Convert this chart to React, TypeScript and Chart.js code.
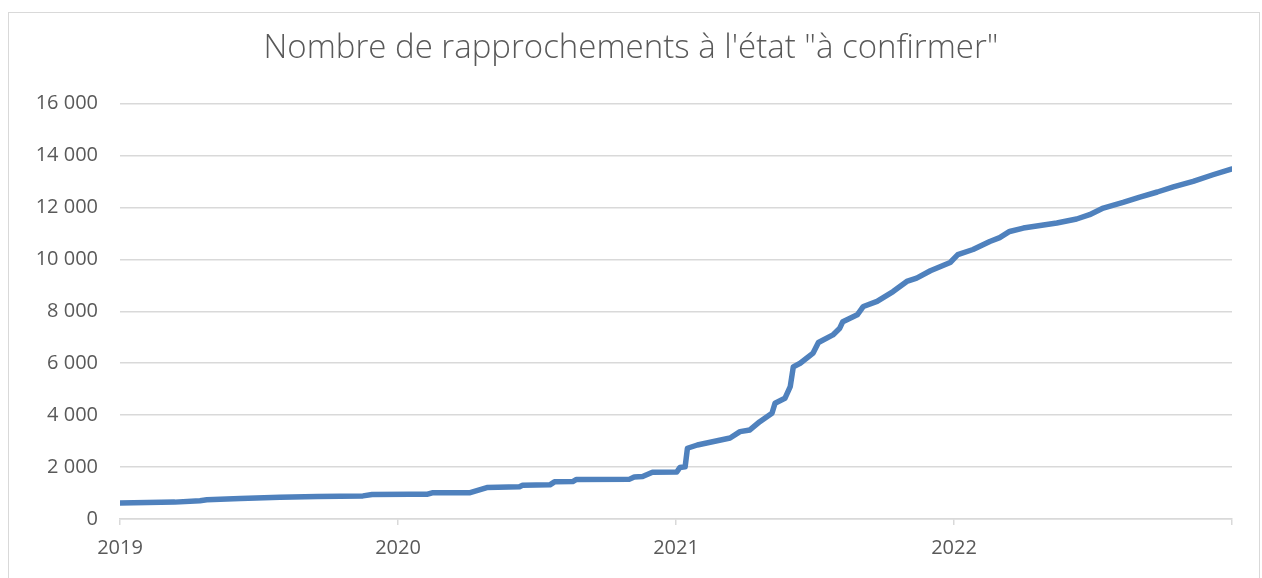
import React, { useEffect, useRef } from "react";
import { Chart, registerables } from "chart.js";

Chart.register(...registerables);

const chartTitle = "Nombre de rapprochements à l'état \"à confirmer\"";

const dates = [
  "2019-01-01", "2019-03-14", "2019-04-16", "2019-04-25", "2019-06-08", "2019-07-30",
  "2019-09-17", "2019-11-16", "2019-11-28", "2020-01-17", "2020-02-09", "2020-02-15",
  "2020-04-05", "2020-04-27", "2020-06-09", "2020-06-13", "2020-07-19", "2020-07-25",
  "2020-08-18", "2020-08-23", "2020-11-01", "2020-11-07", "2020-11-18", "2020-12-01",
  "2021-01-02", "2021-01-06", "2021-01-13", "2021-01-16", "2021-01-29", "2021-03-13",
  "2021-03-26", "2021-04-08", "2021-04-21", "2021-05-07", "2021-05-11", "2021-05-24",
  "2021-05-31", "2021-06-04", "2021-06-13", "2021-06-30", "2021-07-07", "2021-07-26",
  "2021-08-04", "2021-08-08", "2021-08-27", "2021-09-04", "2021-09-22", "2021-10-13",
  "2021-10-31", "2021-11-13", "2021-12-01", "2021-12-27", "2022-01-06", "2022-01-26",
  "2022-02-17", "2022-03-02", "2022-03-15", "2022-04-02", "2022-04-24", "2022-05-16",
  "2022-06-11", "2022-06-28", "2022-07-16", "2022-08-11", "2022-09-02", "2022-09-25",
  "2022-10-16", "2022-11-11", "2022-12-07", "2022-12-31",
];

const counts = [
  620, 650, 705, 740, 790, 837,
  870, 890, 945, 955, 955, 1010,
  1015, 1210, 1245, 1300, 1315, 1430,
  1440, 1525, 1535, 1620, 1640, 1800,
  1810, 1980, 2010, 2725, 2850, 3120,
  3365, 3430, 3750, 4075, 4460, 4650,
  5100, 5860, 6000, 6390, 6800, 7090,
  7350, 7600, 7865, 8185, 8380, 8760,
  9150, 9280, 9560, 9880, 10180, 10380,
  10690, 10840, 11075, 11205, 11305, 11400,
  11555, 11720, 11975, 12195, 12400, 12595,
  12790, 13005, 13260, 13480,
];

const yearTicks = [2019, 2020, 2021, 2022, 2023];
const yTicks = [0, 2000, 4000, 6000, 8000, 10000, 12000, 14000, 16000];

function toDecimalYear(s: string): number {
  const [y, m, d] = s.split("-").map(Number);
  const start = Date.UTC(y, 0, 1);
  const end = Date.UTC(y + 1, 0, 1);
  return y + (Date.UTC(y, m - 1, d) - start) / (end - start);
}

function fmt(v: number): string {
  return String(v).replace(/\B(?=(\d{3})+(?!\d))/g, " ");
}

const FONT = "'Open Sans', sans-serif";
const TEXT = "#595959";
const GRID = "#d9d9d9";

export default function App() {
  const ref = useRef<HTMLCanvasElement | null>(null);

  useEffect(() => {
    if (!ref.current) return;
    const points = dates.map((d, i) => ({ x: toDecimalYear(d), y: counts[i] }));
    const chart = new Chart(ref.current, {
      type: "line",
      data: {
        datasets: [
          {
            data: points,
            borderColor: "#4F81BD",
            backgroundColor: "#4F81BD",
            borderWidth: 5.5,
            pointRadius: 0,
            tension: 0,
            borderCapStyle: "round",
            borderJoinStyle: "round",
          },
        ],
      },
      options: {
        animation: false,
        responsive: false,
        maintainAspectRatio: false,
        layout: { padding: { left: 0, right: 0, top: 0, bottom: 0 } },
        plugins: {
          legend: { display: false },
          tooltip: { enabled: false },
          title: {
            display: true,
            text: chartTitle,
            color: TEXT,
            font: { family: FONT, size: 33, weight: "300" as any },
            padding: { top: 29, bottom: 35 },
          },
        },
        scales: {
          x: {
            type: "linear",
            min: yearTicks[0],
            max: yearTicks[yearTicks.length - 1],
            afterBuildTicks: (s: any) => {
              s.ticks = yearTicks.map((v) => ({ value: v }));
            },
            afterFit: (s: any) => {
              s.height = 59;
            },
            grid: {
              display: true,
              drawOnChartArea: false,
              drawTicks: true,
              tickLength: 6,
              color: GRID,
              lineWidth: 1.5,
            },
            border: { display: true, color: GRID, width: 1.5 },
            ticks: {
              autoSkip: false,
              maxRotation: 0,
              padding: 11,
              color: TEXT,
              font: { family: FONT, size: 20 },
              callback: (v: any) => (Number(v) < 2023 ? String(v) : ""),
            },
          },
          y: {
            type: "linear",
            min: 0,
            max: 16000,
            afterBuildTicks: (s: any) => {
              s.ticks = yTicks.map((v) => ({ value: v }));
            },
            afterFit: (s: any) => {
              s.width = 120;
            },
            grid: { color: GRID, lineWidth: 1.5, drawTicks: false },
            border: { display: false },
            ticks: {
              padding: 22,
              color: TEXT,
              font: { family: FONT, size: 20 },
              callback: (v: any) => fmt(Number(v)),
            },
          },
          yRight: {
            type: "linear",
            position: "right",
            display: true,
            min: 0,
            max: 1,
            afterFit: (s: any) => {
              s.width = 30;
            },
            grid: { display: false, drawOnChartArea: false },
            border: { display: false },
            ticks: { display: false },
          },
        },
      },
    });
    return () => chart.destroy();
  }, []);

  return (
    <div style={{ position: "fixed", left: 0, top: 0, width: 1262, height: 578, background: "#fff" }}>
      <div
        style={{
          position: "absolute",
          left: 8,
          top: 12,
          width: 1252,
          height: 600,
          border: `1px solid ${GRID}`,
          boxSizing: "border-box",
        }}
      />
      <canvas ref={ref} width={1262} height={578} style={{ position: "absolute", left: 0, top: 0 }} />
    </div>
  );
}
